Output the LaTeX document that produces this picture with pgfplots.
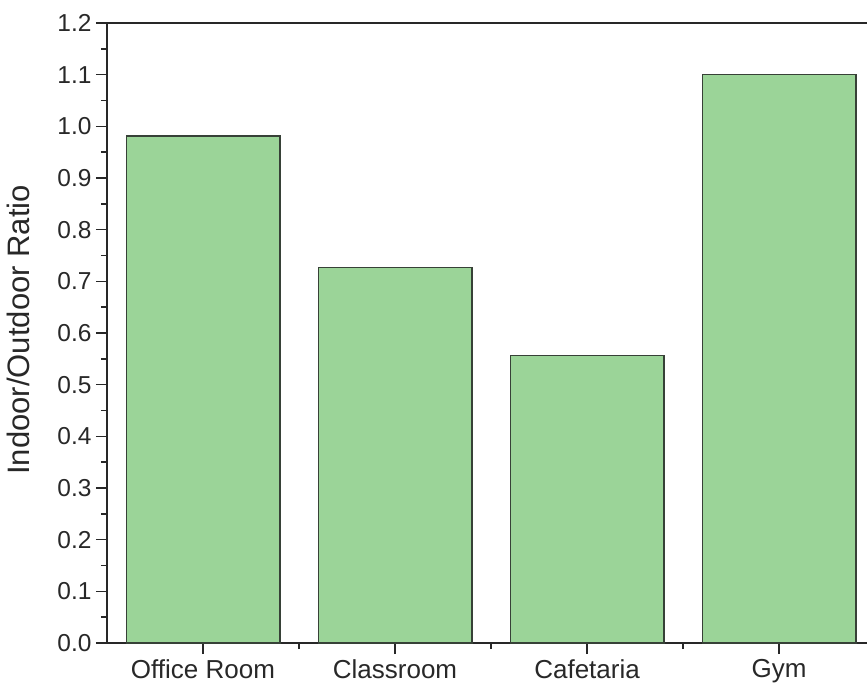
\documentclass[border=0pt]{standalone}
\usepackage{pgfplots}
\pgfplotsset{compat=1.18}
\usepackage{fontspec}
\setmainfont{Liberation Sans}

\definecolor{barfill}{RGB}{155,212,152}
\definecolor{baredge}{RGB}{55,65,55}
\definecolor{axcol}{RGB}{40,40,40}

\pgfplotstableread{
x  ratio
0  0.981
1  0.727
2  0.557
3  1.100
}\ratios

\begin{document}
\begin{tikzpicture}[x=1pt,y=1pt]
\begin{axis}[
  at={(0pt,0pt)}, anchor=south west,
  scale only axis,
  width=760pt, height=620pt,
  xmin=-0.5, xmax=3.458,
  ymin=0, ymax=1.2,
  axis x line=box, axis y line=left,
  axis line style={draw=axcol, line width=2pt, -},
  xtick={0,1,2,3},
  xticklabels={Office Room,Classroom,Cafetaria,Gym},
  minor xtick={0.5,1.5,2.5},
  ytick={0,0.1,...,1.2},
  minor ytick={0.05,0.15,...,1.15},
  tick align=outside,
  tick style={draw=axcol, line width=1.4pt},
  major tick length=11pt,
  minor tick length=6pt,
  xtick pos=bottom, ytick pos=left,
  /pgf/number format/assume math mode=true,
  /pgf/number format/fixed,
  /pgf/number format/fixed zerofill,
  /pgf/number format/precision=1,
  yticklabel style={font=\fontsize{24.5}{28}\selectfont, text=axcol, xshift=-1pt},
  xticklabel style={font=\fontsize{26}{30}\selectfont, text=axcol, yshift=-2pt},
  ylabel={Indoor/Outdoor Ratio},
  ylabel style={font=\fontsize{31}{36}\selectfont, text=axcol,
    at={(axis description cs:-0.0974,0.505)}, anchor=south, rotate=0},
  ybar, bar width=0.8,
  clip=false,
]
\addplot[fill=barfill, draw=baredge, line width=1.4pt] table[x=x, y=ratio] {\ratios};
\end{axis}
\pgfresetboundingbox
\path[use as bounding box] (-107pt,-48pt) rectangle (760pt,643pt);
\end{tikzpicture}
\end{document}
